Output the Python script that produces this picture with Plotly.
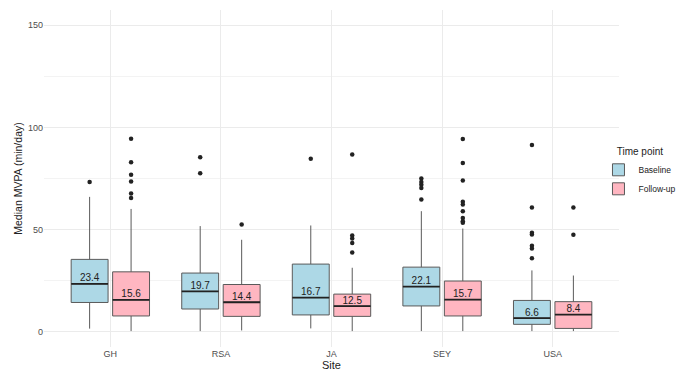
import plotly.graph_objects as go

sites = ["GH", "RSA", "JA", "SEY", "USA"]

# Baseline box statistics (min/day)
base_q1 = [14.3, 11.1, 8.2, 12.6, 3.6]
base_med = [23.4, 19.7, 16.7, 22.1, 6.6]
base_q3 = [35.4, 28.7, 33.1, 31.6, 15.3]
base_lo = [1.5, 0.3, 1.6, 0.3, 0.3]
base_hi = [66.0, 51.7, 52.0, 59.0, 30.0]
base_out_site = ["GH", "RSA", "RSA", "JA", "SEY", "SEY", "SEY", "SEY", "SEY",
                 "USA", "USA", "USA", "USA", "USA", "USA", "USA"]
base_out_val = [73.3, 85.4, 77.6, 84.7, 75.0, 73.3, 71.9, 70.4, 64.7,
                91.4, 60.8, 48.4, 47.6, 42.1, 40.7, 35.9]

# Follow-up box statistics (min/day)
fu_q1 = [7.7, 7.5, 7.5, 7.7, 1.6]
fu_med = [15.6, 14.4, 12.5, 15.7, 8.4]
fu_q3 = [29.3, 23.1, 18.4, 24.8, 14.7]
fu_lo = [0.3, 0.6, 0.3, 0.3, 0.3]
fu_hi = [60.1, 45.0, 31.3, 50.5, 27.5]
fu_out_site = ["GH", "GH", "GH", "GH", "GH", "GH", "RSA", "JA", "JA", "JA", "JA", "JA",
               "SEY", "SEY", "SEY", "SEY", "SEY", "SEY", "SEY", "SEY", "SEY", "USA", "USA"]
fu_out_val = [94.5, 83.0, 76.8, 73.5, 67.6, 65.4, 52.5, 86.7, 47.1, 45.6, 43.4, 38.8,
              94.4, 82.6, 74.0, 63.6, 62.3, 59.0, 55.7, 54.1, 53.3, 60.8, 47.4]

groups = [
    ("Baseline", "#ADD8E6", base_q1, base_med, base_q3, base_lo, base_hi, base_out_site, base_out_val),
    ("Follow-up", "#FFB6C1", fu_q1, fu_med, fu_q3, fu_lo, fu_hi, fu_out_site, fu_out_val),
]

fig = go.Figure()
for name, color, q1, med, q3, lo, hi, osite, oval in groups:
    fig.add_trace(go.Box(
        x=sites, q1=q1, median=med, q3=q3, lowerfence=lo, upperfence=hi,
        name=name, fillcolor=color, line=dict(color="#5a5a5a", width=1),
        whiskerwidth=0, boxpoints=False, offsetgroup=name, alignmentgroup="a",
        hoverinfo="skip",
    ))
for name, color, q1, med, q3, lo, hi, osite, oval in groups:
    # thicker median line
    fig.add_trace(go.Scatter(
        x=sites, y=med, mode="markers", offsetgroup=name, alignmentgroup="a",
        marker=dict(symbol="line-ew", size=26.3, line=dict(color="#222222", width=1.8)),
        showlegend=False, hoverinfo="skip",
    ))
    # outliers
    fig.add_trace(go.Scatter(
        x=osite, y=oval, mode="markers", offsetgroup=name, alignmentgroup="a",
        marker=dict(color="#222222", size=4.5), showlegend=False, hoverinfo="skip",
    ))
    # median labels
    fig.add_trace(go.Scatter(
        x=sites, y=med, mode="text", text=[f"{v:.1f}" for v in med],
        textposition="top center", offsetgroup=name, alignmentgroup="a",
        textfont=dict(family="Liberation Sans, Arial", size=10, color="#222222"),
        showlegend=False, hoverinfo="skip",
    ))

fig.update_layout(
    width=685, height=370,
    margin=dict(l=36, r=74, t=2, b=31, autoexpand=False),
    paper_bgcolor="white", plot_bgcolor="white",
    font=dict(family="Liberation Sans, Arial", color="#4d4d4d"),
    boxmode="group", boxgap=0.25, boxgroupgap=0.11,
    scattermode="group", scattergap=0.25,
    legend=dict(
        title=dict(text="Time point", side="top center", font=dict(size=10, color="#222222")),
        font=dict(size=8.5, color="#222222"),
        bgcolor="rgba(0,0,0,0)",
        xref="container", yref="container",
        x=0.862, xanchor="left", y=0.637, yanchor="top",
        itemwidth=30, tracegroupgap=0,
    ),
    xaxis=dict(
        type="category", categoryorder="array", categoryarray=sites,
        range=[-0.6, 4.6], showgrid=True, gridcolor="#ebebeb", gridwidth=1,
        ticks="", tickfont=dict(size=9, color="#4d4d4d"),
        title=dict(text="Site", font=dict(size=11, color="#222222"), standoff=2),
        showline=False, zeroline=False, automargin=False,
    ),
    yaxis=dict(
        range=[-7.5, 157.5], tickvals=[0, 50, 100, 150], showgrid=True,
        gridcolor="#ebebeb", gridwidth=1,
        minor=dict(tickvals=[25, 75, 125], showgrid=True, gridcolor="#f3f3f3", gridwidth=0.6),
        ticks="", tickfont=dict(size=9, color="#4d4d4d"),
        title=dict(text="Median MVPA (min/day)", font=dict(size=10.5, color="#222222"), standoff=3),
        showline=False, zeroline=False, automargin=False,
    ),
)

fig.write_html("out.html")
